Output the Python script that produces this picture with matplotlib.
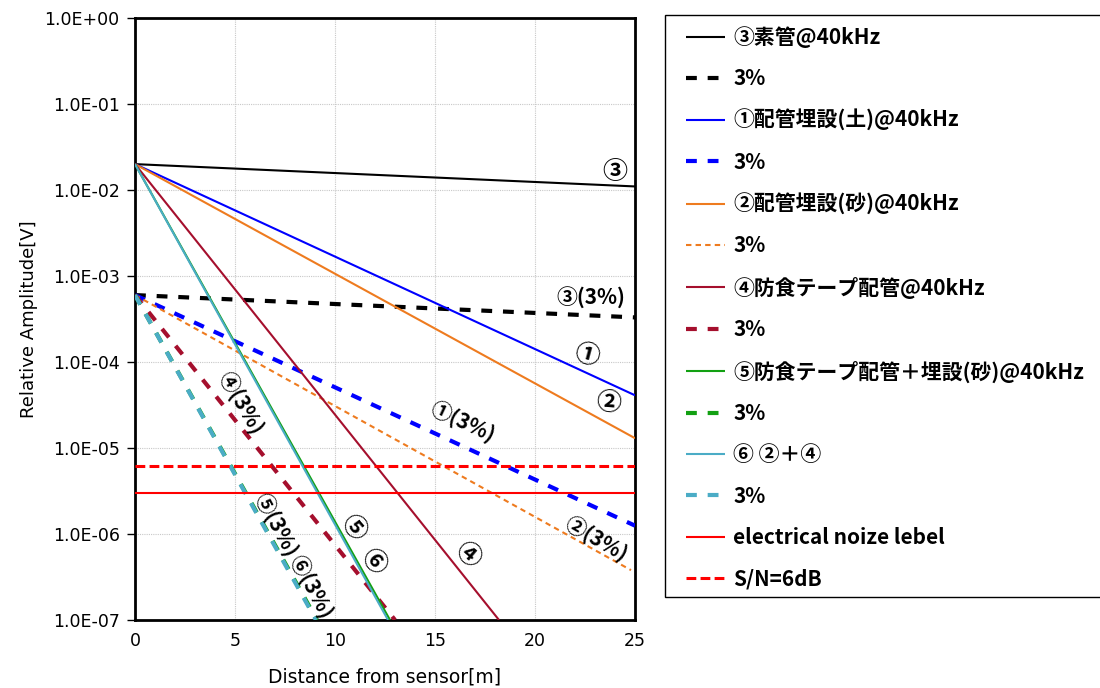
import matplotlib
matplotlib.use("Agg")
import matplotlib.pyplot as plt
from matplotlib.patches import Rectangle

plt.rcParams['font.family'] = ['Noto Sans CJK JP', 'DejaVu Sans']

# ---- data ----
labels = ["③素管@40kHz", "3%",
          "①配管埋設(土)@40kHz", "3%",
          "②配管埋設(砂)@40kHz", "3%",
          "④防食テープ配管@40kHz", "3%",
          "⑤防食テープ配管＋埋設(砂)@40kHz", "3%",
          "⑥ ②＋④", "3%",
          "electrical noize lebel", "S/N=6dB"]
x_start = [0, 0, 0, 0, 0, 0, 0, 0, 0, 0, 0, 0, 0, 0]
x_end = [25, 25, 25, 25, 25, 24.8, 18.2, 13.0, 12.75, 9.1, 12.65, 9.05, 25, 25]
y_start = [2.0e-2, 6.0e-4, 2.0e-2, 6.0e-4, 2.0e-2, 6.0e-4, 2.0e-2, 6.0e-4,
           2.0e-2, 6.0e-4, 2.0e-2, 6.0e-4, 3.0e-6, 6.2e-6]
y_end = [1.1e-2, 3.3e-4, 4.1e-5, 1.25e-6, 1.3e-5, 3.8e-7, 1.0e-7, 1.0e-7,
         1.0e-7, 1.0e-7, 1.0e-7, 1.0e-7, 3.0e-6, 6.2e-6]

x_ticks = [0, 5, 10, 15, 20, 25]
y_ticks = [1e-7, 1e-6, 1e-5, 1e-4, 1e-3, 1e-2, 1e-1, 1e0]
y_ticklabels = ["1.0E-07", "1.0E-06", "1.0E-05", "1.0E-04",
                "1.0E-03", "1.0E-02", "1.0E-01", "1.0E+00"]

# annotations: text, x, y (data), rotation, size
ann_text = ["③", "③(3%)", "①", "②", "①(3%)", "②(3%)", "④(3%)",
            "⑤(3%)", "⑥(3%)", "⑤", "⑥", "④"]
ann_x = [24.0, 22.8, 22.6, 23.7, 16.35, 23.05, 5.25, 7.0, 8.75, 10.9, 11.9, 16.65]
ann_y = [1.62e-2, 5.6e-4, 1.2e-4, 3.3e-5, 2.0e-5, 8.5e-7, 3.3e-5,
         1.27e-6, 2.4e-7, 1.17e-6, 4.7e-7, 5.7e-7]
ann_rot = [0, 0, -15, -5, -25, -30, -60, -62, -62, -50, -50, -40]
ann_size = [18, 15, 18, 18, 15, 15, 15, 15, 15, 18, 18, 18]

# ---- styles ----
colors = ["#000000", "#000000", "#0000FF", "#0000FF", "#EE7B1F", "#EE7B1F",
          "#A50F2D", "#A50F2D", "#12A012", "#12A012", "#4BACC6", "#4BACC6",
          "#FF0000", "#FF0000"]
widths = [1.5, 3.0, 1.5, 3.0, 1.5, 1.5, 1.5, 3.0, 1.5, 3.0, 1.5, 3.0, 1.5, 2.2]
styles = ["-", (0, (2.6, 2.6)), "-", (0, (2.6, 2.6)), "-", (0, (2.6, 2.0)),
          "-", (0, (2.6, 2.6)), "-", (0, (2.6, 2.6)), "-", (0, (2.6, 2.6)),
          "-", (0, (3.2, 1.4))]

W, H = 1100, 688
fig = plt.figure(figsize=(11, 6.88), dpi=100)
ax = fig.add_axes([135/W, 1 - 620/H, 500/W, 602/H])

handles = []
for i in range(len(labels)):
    ln, = ax.plot([x_start[i], x_end[i]], [y_start[i], y_end[i]],
                  color=colors[i], lw=widths[i], linestyle=styles[i],
                  solid_capstyle='butt', dash_capstyle='butt', zorder=3)
    handles.append(ln)

ax.set_yscale('log')
ax.set_xlim(0, 25)
ax.set_ylim(1e-7, 1)
ax.set_xticks(x_ticks)
ax.set_xticklabels([str(v) for v in x_ticks])
ax.set_yticks(y_ticks)
ax.set_yticklabels(y_ticklabels)
ax.yaxis.set_minor_locator(matplotlib.ticker.NullLocator())
ax.tick_params(axis='both', labelsize=12.5)
ax.tick_params(axis='x', length=0, pad=9)
ax.tick_params(axis='y', length=6, width=1, direction='out', pad=5)
for lab in ax.get_xticklabels() + ax.get_yticklabels():
    lab.set_family('DejaVu Sans')
ax.grid(True, which='major', color='#C8C8C8', linestyle=(0, (1, 1)), lw=0.8)
for s in ax.spines.values():
    s.set_linewidth(2.0)
    s.set_color('black')

ax.set_xlabel("Distance from sensor[m]", fontsize=13.5, labelpad=12,
              family='DejaVu Sans')
ax.set_ylabel("Relative Amplitude[V]", fontsize=13, labelpad=5,
              family='DejaVu Sans')

for t, x, y, r, fs in zip(ann_text, ann_x, ann_y, ann_rot, ann_size):
    ax.text(x, y, t, fontsize=fs, rotation=r, ha='center', va='center',
            rotation_mode='anchor', zorder=4, fontweight='bold')

# legend frame drawn separately so the entries can be placed freely
fig.add_artist(Rectangle((665/W, 1 - 597/H), 440/W, 582/H,
                         transform=fig.transFigure, facecolor='white',
                         edgecolor='black', lw=1.0, zorder=1))
leg = fig.legend(handles, labels, loc='upper left',
                 bbox_to_anchor=(686/W, 1 - 26/H),
                 borderaxespad=0, borderpad=0,
                 prop={'size': 15, 'weight': 'bold'},
                 handlelength=1.875, handletextpad=0.4, labelspacing=0.975,
                 frameon=False)
leg.set_zorder(2)

fig.savefig("out.png", dpi=100)
